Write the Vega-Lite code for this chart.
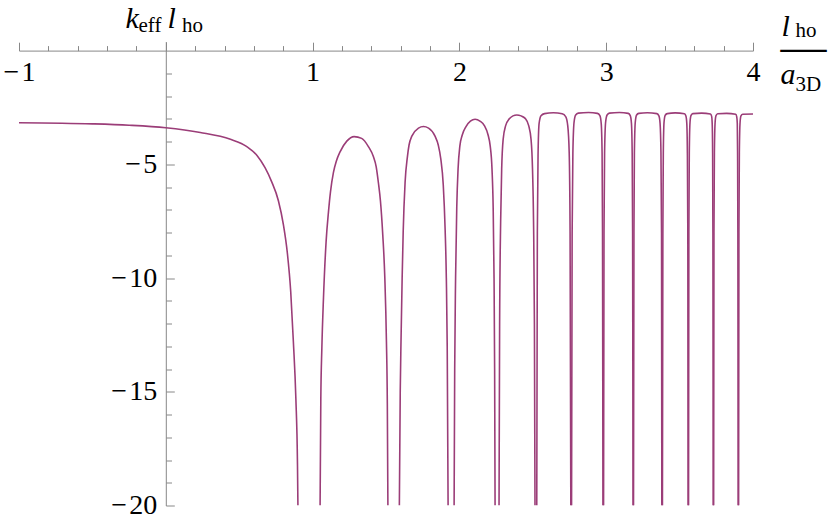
{
  "$schema": "https://vega.github.io/schema/vega-lite/v6.json",
  "width": 734,
  "height": 464,
  "autosize": {"type": "none"},
  "padding": {"left": 19, "top": 41.5, "right": 77, "bottom": 15.5},
  "background": "white",
  "config": {"view": {"stroke": null}, "axis": {"grid": false}},
  "data": {"values": [
    {"seg": 0, "x": -1, "y": -3.17}, {"seg": 0, "x": -0.5, "y": -3.22}, {"seg": 0, "x": -0.25, "y": -3.28}, {"seg": 0, "x": 0, "y": -3.39}, {"seg": 0, "x": 0.235, "y": -3.6}, {"seg": 0, "x": 0.44, "y": -3.9}, {"seg": 0, "x": 0.552, "y": -4.22}, {"seg": 0, "x": 0.62, "y": -4.6}, {"seg": 0, "x": 0.676, "y": -5.15}, {"seg": 0, "x": 0.72, "y": -5.75}, {"seg": 0, "x": 0.767, "y": -6.6}, {"seg": 0, "x": 0.801, "y": -7.65}, {"seg": 0, "x": 0.828, "y": -8.9}, {"seg": 0, "x": 0.851, "y": -10.6}, {"seg": 0, "x": 0.869, "y": -12.8}, {"seg": 0, "x": 0.886, "y": -15.3}, {"seg": 0, "x": 0.897, "y": -18.2}, {"seg": 0, "x": 0.9, "y": -20},
    {"seg": 1, "x": 1.051, "y": -20}, {"seg": 1, "x": 1.056, "y": -15.3}, {"seg": 1, "x": 1.063, "y": -13.1}, {"seg": 1, "x": 1.074, "y": -10.9}, {"seg": 1, "x": 1.092, "y": -8.4}, {"seg": 1, "x": 1.108, "y": -7.1}, {"seg": 1, "x": 1.122, "y": -6.2}, {"seg": 1, "x": 1.142, "y": -5.35}, {"seg": 1, "x": 1.162, "y": -4.85}, {"seg": 1, "x": 1.187, "y": -4.45}, {"seg": 1, "x": 1.233, "y": -3.98}, {"seg": 1, "x": 1.283, "y": -3.78}, {"seg": 1, "x": 1.334, "y": -3.86}, {"seg": 1, "x": 1.38, "y": -4.22}, {"seg": 1, "x": 1.414, "y": -4.66}, {"seg": 1, "x": 1.433, "y": -5.1}, {"seg": 1, "x": 1.448, "y": -5.8}, {"seg": 1, "x": 1.462, "y": -6.6}, {"seg": 1, "x": 1.478, "y": -8.1}, {"seg": 1, "x": 1.492, "y": -10}, {"seg": 1, "x": 1.503, "y": -12.8}, {"seg": 1, "x": 1.509, "y": -15.5}, {"seg": 1, "x": 1.513, "y": -20},
    {"seg": 2, "x": 1.591, "y": -20}, {"seg": 2, "x": 1.597, "y": -15}, {"seg": 2, "x": 1.603, "y": -12.5}, {"seg": 2, "x": 1.61, "y": -10}, {"seg": 2, "x": 1.617, "y": -8}, {"seg": 2, "x": 1.63, "y": -5.8}, {"seg": 2, "x": 1.646, "y": -4.66}, {"seg": 2, "x": 1.657, "y": -4.15}, {"seg": 2, "x": 1.676, "y": -3.76}, {"seg": 2, "x": 1.721, "y": -3.41}, {"seg": 2, "x": 1.755, "y": -3.34}, {"seg": 2, "x": 1.79, "y": -3.41}, {"seg": 2, "x": 1.834, "y": -3.76}, {"seg": 2, "x": 1.856, "y": -4.15}, {"seg": 2, "x": 1.873, "y": -4.75}, {"seg": 2, "x": 1.89, "y": -5.9}, {"seg": 2, "x": 1.903, "y": -7.9}, {"seg": 2, "x": 1.911, "y": -10}, {"seg": 2, "x": 1.917, "y": -13}, {"seg": 2, "x": 1.923, "y": -20},
    {"seg": 3, "x": 1.964, "y": -20}, {"seg": 3, "x": 1.968, "y": -14}, {"seg": 3, "x": 1.974, "y": -10}, {"seg": 3, "x": 1.982, "y": -6.9}, {"seg": 3, "x": 1.991, "y": -5.2}, {"seg": 3, "x": 2.003, "y": -4.2}, {"seg": 3, "x": 2.02, "y": -3.7}, {"seg": 3, "x": 2.045, "y": -3.34}, {"seg": 3, "x": 2.075, "y": -3.1}, {"seg": 3, "x": 2.107, "y": -3.02}, {"seg": 3, "x": 2.14, "y": -3.1}, {"seg": 3, "x": 2.17, "y": -3.3}, {"seg": 3, "x": 2.195, "y": -3.7}, {"seg": 3, "x": 2.21, "y": -4.2}, {"seg": 3, "x": 2.222, "y": -5.2}, {"seg": 3, "x": 2.23, "y": -6.9}, {"seg": 3, "x": 2.236, "y": -10}, {"seg": 3, "x": 2.24, "y": -14}, {"seg": 3, "x": 2.243, "y": -20},
    {"seg": 4, "x": 2.27, "y": -20}, {"seg": 4, "x": 2.274, "y": -12}, {"seg": 4, "x": 2.281, "y": -7.5}, {"seg": 4, "x": 2.288, "y": -5.2}, {"seg": 4, "x": 2.298, "y": -3.9}, {"seg": 4, "x": 2.315, "y": -3.3}, {"seg": 4, "x": 2.34, "y": -3.0}, {"seg": 4, "x": 2.365, "y": -2.87}, {"seg": 4, "x": 2.391, "y": -2.83}, {"seg": 4, "x": 2.42, "y": -2.87}, {"seg": 4, "x": 2.448, "y": -2.98}, {"seg": 4, "x": 2.472, "y": -3.3}, {"seg": 4, "x": 2.488, "y": -3.9}, {"seg": 4, "x": 2.498, "y": -5.2}, {"seg": 4, "x": 2.505, "y": -7.5}, {"seg": 4, "x": 2.511, "y": -12}, {"seg": 4, "x": 2.515, "y": -20},
    {"seg": 5, "x": 2.527, "y": -20}, {"seg": 5, "x": 2.531, "y": -8}, {"seg": 5, "x": 2.536, "y": -4.5}, {"seg": 5, "x": 2.543, "y": -3.2}, {"seg": 5, "x": 2.556, "y": -2.86}, {"seg": 5, "x": 2.58, "y": -2.77}, {"seg": 5, "x": 2.64, "y": -2.73}, {"seg": 5, "x": 2.7, "y": -2.78}, {"seg": 5, "x": 2.724, "y": -2.9}, {"seg": 5, "x": 2.738, "y": -3.3}, {"seg": 5, "x": 2.748, "y": -4.5}, {"seg": 5, "x": 2.754, "y": -8}, {"seg": 5, "x": 2.759, "y": -20},
    {"seg": 6, "x": 2.764, "y": -20}, {"seg": 6, "x": 2.768, "y": -8}, {"seg": 6, "x": 2.773, "y": -4.5}, {"seg": 6, "x": 2.781, "y": -3.15}, {"seg": 6, "x": 2.792, "y": -2.83}, {"seg": 6, "x": 2.81, "y": -2.75}, {"seg": 6, "x": 2.88, "y": -2.72}, {"seg": 6, "x": 2.94, "y": -2.76}, {"seg": 6, "x": 2.957, "y": -2.86}, {"seg": 6, "x": 2.966, "y": -3.2}, {"seg": 6, "x": 2.972, "y": -4.5}, {"seg": 6, "x": 2.975, "y": -8}, {"seg": 6, "x": 2.978, "y": -20},
    {"seg": 7, "x": 2.982, "y": -20}, {"seg": 7, "x": 2.985, "y": -8}, {"seg": 7, "x": 2.989, "y": -4.5}, {"seg": 7, "x": 2.996, "y": -3.15}, {"seg": 7, "x": 3.006, "y": -2.83}, {"seg": 7, "x": 3.022, "y": -2.75}, {"seg": 7, "x": 3.09, "y": -2.72}, {"seg": 7, "x": 3.15, "y": -2.76}, {"seg": 7, "x": 3.164, "y": -2.86}, {"seg": 7, "x": 3.172, "y": -3.2}, {"seg": 7, "x": 3.177, "y": -4.5}, {"seg": 7, "x": 3.18, "y": -8}, {"seg": 7, "x": 3.183, "y": -20},
    {"seg": 8, "x": 3.186, "y": -20}, {"seg": 8, "x": 3.189, "y": -8}, {"seg": 8, "x": 3.192, "y": -4.5}, {"seg": 8, "x": 3.198, "y": -3.15}, {"seg": 8, "x": 3.207, "y": -2.83}, {"seg": 8, "x": 3.222, "y": -2.76}, {"seg": 8, "x": 3.28, "y": -2.73}, {"seg": 8, "x": 3.345, "y": -2.77}, {"seg": 8, "x": 3.359, "y": -2.87}, {"seg": 8, "x": 3.367, "y": -3.2}, {"seg": 8, "x": 3.373, "y": -4.5}, {"seg": 8, "x": 3.377, "y": -8}, {"seg": 8, "x": 3.379, "y": -20},
    {"seg": 9, "x": 3.383, "y": -20}, {"seg": 9, "x": 3.386, "y": -8}, {"seg": 9, "x": 3.389, "y": -4.5}, {"seg": 9, "x": 3.394, "y": -3.15}, {"seg": 9, "x": 3.402, "y": -2.84}, {"seg": 9, "x": 3.416, "y": -2.77}, {"seg": 9, "x": 3.47, "y": -2.74}, {"seg": 9, "x": 3.533, "y": -2.78}, {"seg": 9, "x": 3.543, "y": -2.88}, {"seg": 9, "x": 3.549, "y": -3.2}, {"seg": 9, "x": 3.553, "y": -4.5}, {"seg": 9, "x": 3.556, "y": -8}, {"seg": 9, "x": 3.558, "y": -20},
    {"seg": 10, "x": 3.561, "y": -20}, {"seg": 10, "x": 3.563, "y": -8}, {"seg": 10, "x": 3.566, "y": -4.5}, {"seg": 10, "x": 3.571, "y": -3.15}, {"seg": 10, "x": 3.578, "y": -2.85}, {"seg": 10, "x": 3.59, "y": -2.77}, {"seg": 10, "x": 3.65, "y": -2.75}, {"seg": 10, "x": 3.71, "y": -2.79}, {"seg": 10, "x": 3.718, "y": -2.88}, {"seg": 10, "x": 3.722, "y": -3.2}, {"seg": 10, "x": 3.725, "y": -4.5}, {"seg": 10, "x": 3.727, "y": -8}, {"seg": 10, "x": 3.729, "y": -20},
    {"seg": 11, "x": 3.732, "y": -20}, {"seg": 11, "x": 3.734, "y": -8}, {"seg": 11, "x": 3.737, "y": -4.5}, {"seg": 11, "x": 3.742, "y": -3.15}, {"seg": 11, "x": 3.748, "y": -2.86}, {"seg": 11, "x": 3.76, "y": -2.78}, {"seg": 11, "x": 3.82, "y": -2.76}, {"seg": 11, "x": 3.882, "y": -2.8}, {"seg": 11, "x": 3.889, "y": -2.9}, {"seg": 11, "x": 3.893, "y": -3.2}, {"seg": 11, "x": 3.895, "y": -4.5}, {"seg": 11, "x": 3.897, "y": -8}, {"seg": 11, "x": 3.899, "y": -20},
    {"seg": 12, "x": 3.902, "y": -20}, {"seg": 12, "x": 3.904, "y": -8}, {"seg": 12, "x": 3.907, "y": -4.5}, {"seg": 12, "x": 3.912, "y": -3.15}, {"seg": 12, "x": 3.918, "y": -2.87}, {"seg": 12, "x": 3.93, "y": -2.8}, {"seg": 12, "x": 4.0, "y": -2.79}
  ]},
  "layer": [
    {
      "mark": {"type": "line", "color": "#9b3d78", "strokeWidth": 1.6, "interpolate": "monotone", "clip": true},
      "encoding": {
        "detail": {"field": "seg", "type": "nominal"},
        "x": {"field": "x", "type": "quantitative", "scale": {"domain": [-1, 4], "nice": false, "zero": false},
          "axis": {"orient": "bottom", "offset": -454.9, "values": [-1, 1, 2, 3, 4], "ticks": false, "domain": true, "domainColor": "#888888", "domainWidth": 1,
            "labelFont": "Liberation Serif, Times New Roman, DejaVu Serif, serif", "labelFontSize": 28, "labelColor": "black", "labelPadding": 8, "labelFlush": false, "labelOverlap": false,
            "labelExpr": "datum.value < 0 ? '−\u200a' + abs(datum.value) : datum.label", "title": null}},
        "y": {"field": "y", "type": "quantitative", "scale": {"domain": [-20, 0.4], "nice": false, "zero": false},
          "axis": {"orient": "left", "offset": -146.8, "values": [-20, -15, -10, -5], "ticks": false, "domain": true, "domainColor": "#888888", "domainWidth": 1,
            "labelFont": "Liberation Serif, Times New Roman, DejaVu Serif, serif", "labelFontSize": 28, "labelColor": "black", "labelPadding": 9, "labelFlush": false, "labelOverlap": false,
            "labelExpr": "datum.value < 0 ? '−\u200a' + abs(datum.value) : datum.label", "title": null}}
      }
    },
    {
      "mark": {"type": "line", "opacity": 0},
      "encoding": {
        "detail": {"field": "seg", "type": "nominal"},
        "x": {"field": "x", "type": "quantitative",
          "axis": {"orient": "bottom", "offset": -454.9, "values": [-1, 0, 1, 2, 3, 4], "ticks": true, "tickSize": -8.4, "tickColor": "#888888", "tickWidth": 1, "labels": false, "domain": false,
            "title": "l", "titleX": 762, "titleY": -15.6, "titleAngle": 0, "titleAlign": "left", "titleBaseline": "alphabetic", "titleFont": "Liberation Serif, Times New Roman, DejaVu Serif, serif", "titleFontSize": 30, "titleFontStyle": "italic", "titleFontWeight": "normal", "titleColor": "black"}},
        "y": {"field": "y", "type": "quantitative",
          "axis": {"orient": "left", "offset": -146.8, "values": [-20, -15, -10, -5], "ticks": true, "tickSize": -8.5, "tickColor": "#888888", "tickWidth": 1, "labels": false, "domain": false,
            "title": "k", "titleX": -40.8, "titleY": -14.5, "titleAngle": 0, "titleAlign": "left", "titleBaseline": "alphabetic", "titleFont": "Liberation Serif, Times New Roman, DejaVu Serif, serif", "titleFontSize": 30, "titleFontStyle": "italic", "titleFontWeight": "normal", "titleColor": "black"}}
      }
    },
    {
      "mark": {"type": "line", "opacity": 0},
      "encoding": {
        "detail": {"field": "seg", "type": "nominal"},
        "x": {"field": "x", "type": "quantitative",
          "axis": {"orient": "bottom", "offset": -454.9, "values": [-0.8, -0.6, -0.4, -0.2, 0.2, 0.4, 0.6, 0.8, 1.2, 1.4, 1.6, 1.8, 2.2, 2.4, 2.6, 2.8, 3.2, 3.4, 3.6, 3.8], "ticks": true, "tickSize": -5, "tickColor": "#888888", "tickWidth": 1, "labels": false, "domain": false,
            "title": "ho", "titleX": 776, "titleY": -13.9, "titleAngle": 0, "titleAlign": "left", "titleBaseline": "alphabetic", "titleFont": "Liberation Serif, Times New Roman, DejaVu Serif, serif", "titleFontSize": 21, "titleFontStyle": "normal", "titleFontWeight": "normal", "titleColor": "black"}},
        "y": {"field": "y", "type": "quantitative",
          "axis": {"orient": "left", "offset": -146.8, "values": [-19, -18, -17, -16, -14, -13, -12, -11, -9, -8, -7, -6, -4, -3, -2, -1], "ticks": true, "tickSize": -5.7, "tickColor": "#888888", "tickWidth": 1, "labels": false, "domain": false,
            "title": "eff", "titleX": -27.8, "titleY": -10, "titleAngle": 0, "titleAlign": "left", "titleBaseline": "alphabetic", "titleFont": "Liberation Serif, Times New Roman, DejaVu Serif, serif", "titleFontSize": 21, "titleFontStyle": "normal", "titleFontWeight": "normal", "titleColor": "black"}}
      }
    },
    {
      "mark": {"type": "line", "opacity": 0},
      "encoding": {
        "detail": {"field": "seg", "type": "nominal"},
        "x": {"field": "x", "type": "quantitative",
          "axis": {"orient": "bottom", "offset": -454.9, "ticks": false, "labels": false, "domain": false,
            "title": "—", "titleX": 761, "titleY": 11, "titleAngle": 0, "titleAlign": "left", "titleBaseline": "alphabetic", "titleFont": "Liberation Serif, Times New Roman, DejaVu Serif, serif", "titleFontSize": 46, "titleFontStyle": "normal", "titleFontWeight": "normal", "titleColor": "black"}},
        "y": {"field": "y", "type": "quantitative",
          "axis": {"orient": "left", "offset": -146.8, "ticks": false, "labels": false, "domain": false,
            "title": "l", "titleX": 1.2, "titleY": -14.5, "titleAngle": 0, "titleAlign": "left", "titleBaseline": "alphabetic", "titleFont": "Liberation Serif, Times New Roman, DejaVu Serif, serif", "titleFontSize": 30, "titleFontStyle": "italic", "titleFontWeight": "normal", "titleColor": "black"}}
      }
    },
    {
      "mark": {"type": "line", "opacity": 0},
      "encoding": {
        "detail": {"field": "seg", "type": "nominal"},
        "x": {"field": "x", "type": "quantitative",
          "axis": {"orient": "bottom", "offset": -454.9, "ticks": false, "labels": false, "domain": false,
            "title": "a", "titleX": 761, "titleY": 32.7, "titleAngle": 0, "titleAlign": "left", "titleBaseline": "alphabetic", "titleFont": "Liberation Serif, Times New Roman, DejaVu Serif, serif", "titleFontSize": 30, "titleFontStyle": "italic", "titleFontWeight": "normal", "titleColor": "black"}},
        "y": {"field": "y", "type": "quantitative",
          "axis": {"orient": "left", "offset": -146.8, "ticks": false, "labels": false, "domain": false,
            "title": "ho", "titleX": 15.7, "titleY": -10, "titleAngle": 0, "titleAlign": "left", "titleBaseline": "alphabetic", "titleFont": "Liberation Serif, Times New Roman, DejaVu Serif, serif", "titleFontSize": 21, "titleFontStyle": "normal", "titleFontWeight": "normal", "titleColor": "black"}}
      }
    },
    {
      "mark": {"type": "line", "opacity": 0},
      "encoding": {
        "detail": {"field": "seg", "type": "nominal"},
        "x": {"field": "x", "type": "quantitative",
          "axis": {"orient": "bottom", "offset": -454.9, "ticks": false, "labels": false, "domain": false,
            "title": "3D", "titleX": 776, "titleY": 39.4, "titleAngle": 0, "titleAlign": "left", "titleBaseline": "alphabetic", "titleFont": "Liberation Serif, Times New Roman, DejaVu Serif, serif", "titleFontSize": 21, "titleFontStyle": "normal", "titleFontWeight": "normal", "titleColor": "black"}},
        "y": {"field": "y", "type": "quantitative", "axis": null}
      }
    }
  ],
  "resolve": {"axis": {"x": "independent", "y": "independent"}}
}
